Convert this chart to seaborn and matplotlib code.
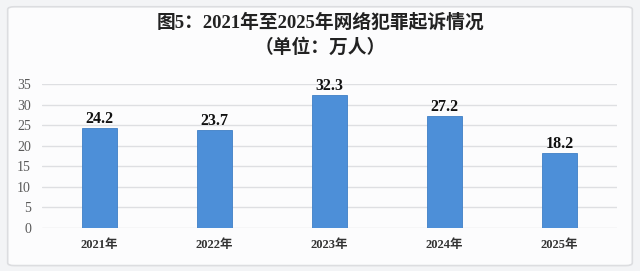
import matplotlib
matplotlib.use("Agg")
import matplotlib.pyplot as plt
from matplotlib.patches import FancyBboxPatch
import seaborn as sns
import pandas as pd

years = ["2021年", "2022年", "2023年", "2024年", "2025年"]
values = [24.2, 23.7, 32.3, 27.2, 18.2]
yticks = [0, 5, 10, 15, 20, 25, 30, 35]

sns.set_theme(style="white")
FONTS = ["Liberation Serif", "Noto Sans CJK SC", "DejaVu Sans"]
plt.rcParams["font.family"] = FONTS

df = pd.DataFrame({"year": years, "value": values})

fig = plt.figure(figsize=(6.4, 2.71), dpi=100)
fig.patch.set_facecolor("#f3f4f6")
panel = FancyBboxPatch((0.012, 0.02), 0.976, 0.955, boxstyle="round,pad=0,rounding_size=0.01",
                       transform=fig.transFigure, facecolor="#fcfcfd", edgecolor="#dcdde0",
                       linewidth=1.2, zorder=-10)
fig.patches.append(panel)

ax = fig.add_axes([42 / 640, 1 - 228 / 271, (617 - 42) / 640, 144 / 271])
ax.set_facecolor("none")
sns.barplot(data=df, x="year", y="value", color="#4d8fd8", width=0.30, ax=ax,
            saturation=1, edgecolor="#3f7fc6", linewidth=0.6, zorder=3)
ax.set_ylim(0, 35)
ax.set_xlim(-0.5, 4.5)
ax.set_yticks(yticks)
ax.yaxis.grid(True, color="#dedfe2", linewidth=1.0, zorder=0)
for s in ax.spines.values():
    s.set_visible(False)
ax.set_xlabel("")
ax.set_ylabel("")
ax.tick_params(axis="y", length=0, pad=8, labelsize=10, labelcolor="#5a5a5a")
ax.tick_params(axis="x", length=0, pad=8, labelsize=9, labelcolor="#333333")
for lab in ax.get_xticklabels():
    lab.set_fontweight("bold")
    lab.set_family(FONTS)
for lab in ax.get_yticklabels():
    lab.set_family(FONTS)

for c in ax.containers:
    ax.bar_label(c, labels=[f"{v:.1f}" for v in values], padding=1, fontsize=11.5,
                 fontweight="bold", color="#111111", family=FONTS)

fig.text(0.5, 0.915, "图5：2021年至2025年网络犯罪起诉情况", ha="center", va="center",
         fontsize=13.5, fontweight="bold", color="#222222", family=FONTS)
fig.text(0.5, 0.825, "（单位：万人）", ha="center", va="center",
         fontsize=13.5, fontweight="bold", color="#222222", family=FONTS)

fig.savefig("out.png", dpi=100, facecolor=fig.get_facecolor())
